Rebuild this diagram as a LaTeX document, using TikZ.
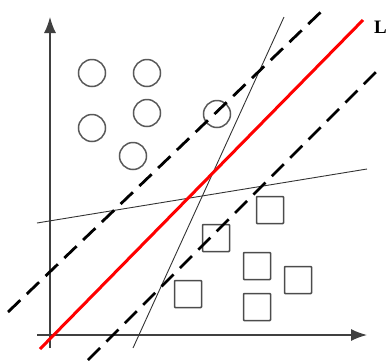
\documentclass[tikz,border=0pt]{standalone}
\usepackage{fontspec}
\newfontfamily\labfont{Liberation Serif}
\usetikzlibrary{calc, arrows.meta}

\begin{document}
\begin{tikzpicture}[x=1pt, y=-1pt,
  dot/.style={circle, draw=black!65, line width=1.5pt, minimum size=27pt, inner sep=0pt},
  box/.style={rectangle, draw=black!70, line width=1.5pt, minimum size=27pt, inner sep=0pt, rounded corners=0.8pt},
  margin/.style={line width=2.8pt, dash pattern=on 17pt off 9pt},
  cut/.style={line width=0.9pt, black!80}]
\useasboundingbox (0,0) rectangle (389,360);

\coordinate (o) at (50,335);
\coordinate (xend) at (367,335);
\coordinate (yend) at (50,17);
\draw[line width=1.4pt, black!75, -{Latex[length=16pt,width=12pt]}] (37,335) -- (xend); % x axis
\draw[line width=1.4pt, black!75, -{Latex[length=16pt,width=12pt]}] (50,348) -- (yend); % y axis

% circles
\foreach \n/\x/\y in {c1/92/73, c2/147/73, c3/92/128, c4/147/113, c5/133/156, c6/217/114}
\node[dot] (\n) at (\x,\y) {};

% squares
\foreach \n/\x/\y in {s1/270/210, s2/216/238, s3/257/266, s4/298/280, s5/188/294, s6/257/307}
\node[box] (\n) at (\x,\y) {};

% other separating lines
\draw[cut] (133,348) -- (284,17);
\draw[cut] (37,223) -- (367,169);

% margins
\draw[margin] (8,312) -- (325,8);
\draw[margin] (88,360) -- (380,68);

% best line
\draw[red, line width=3pt] (40,349) -- (363,20) coordinate (lend);
\node[anchor=west, font=\labfont\fontsize{19}{19}\selectfont\bfseries, inner sep=0pt] (lab) at (374,27) {L};

\end{tikzpicture}
\end{document}
